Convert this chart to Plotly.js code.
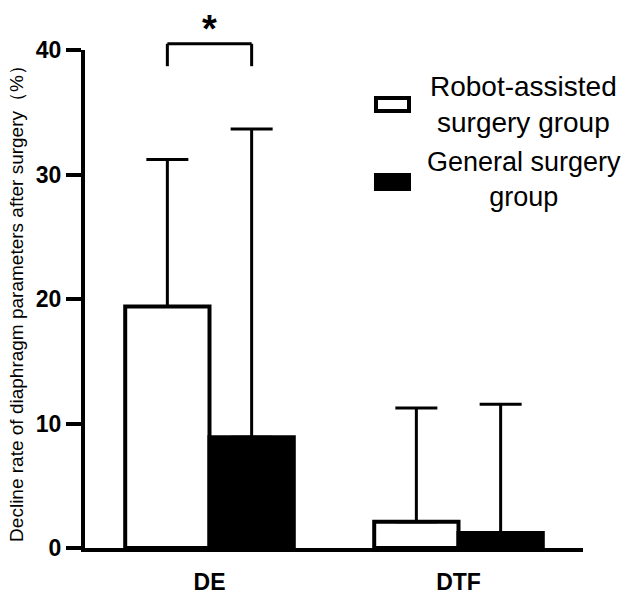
<!DOCTYPE html>
<html>
<head>
<meta charset="utf-8">
<script src="https://cdn.plot.ly/plotly-3.0.1.min.js"></script>
<style>html,body{margin:0;padding:0;background:#fff;}#chart{width:635px;height:596px;}</style>
</head>
<body>
<div id="chart"></div>
<script>
// ---- data ----
const categories = ["DE", "DTF"];
const seriesNames = ["Robot-assisted<br>surgery group", "General surgery<br>group"];
const robotMeans = [19.4, 2.1];
const robotErr = [11.8, 9.15];
const generalMeans = [8.9, 1.2];
const generalErr = [24.75, 10.35];
const yTicks = [0, 10, 20, 30, 40];
const yMax = 40;
const yTitle = "Decline rate of diaphragm parameters after surgery（%）";
const sigMark = "*";
const bracketTop = 40.5;
const bracketBottom = 38.7;

const FONT = "Liberation Sans, Arial, sans-serif";
const bargap = 0.323;
const barW = (1 - bargap) / 2;

const common = {
  type: "bar",
  x: categories,
  hoverinfo: "skip"
};

const traces = [
  Object.assign({}, common, {
    y: robotMeans,
    name: seriesNames[0],
    marker: { color: "#fff", line: { color: "#000", width: 4 } },
    error_y: { type: "data", array: robotErr, arrayminus: [0, 0], symmetric: false, color: "#000", thickness: 3, width: 21 }
  }),
  Object.assign({}, common, {
    y: generalMeans,
    name: seriesNames[1],
    marker: { color: "#000", line: { color: "#000", width: 4 } },
    error_y: { type: "data", array: generalErr, arrayminus: [0, 0], symmetric: false, color: "#000", thickness: 3, width: 21 }
  })
];

const layout = {
  width: 635,
  height: 596,
  margin: { l: 85, r: 52, t: 50, b: 48 },
  paper_bgcolor: "#fff",
  plot_bgcolor: "#fff",
  showlegend: false,
  barmode: "group",
  bargap: bargap,
  bargroupgap: 0,
  font: { family: FONT, color: "#000" },
  xaxis: {
    type: "category",
    range: [-0.5, 1.5],
    showline: true, linewidth: 4, linecolor: "#000",
    ticks: "", showgrid: false, zeroline: false,
    ticklabelstandoff: 10,
    tickfont: { family: FONT, size: 23, color: "#000", weight: "bold" },
    fixedrange: true
  },
  yaxis: {
    range: [0, yMax],
    tickvals: yTicks,
    ticktext: yTicks.map(String),
    showline: true, linewidth: 4, linecolor: "#000",
    ticks: "outside", ticklen: 15, tickwidth: 4, tickcolor: "#000",
    showgrid: false, zeroline: false,
    tickfont: { family: FONT, size: 23, color: "#000", weight: "bold" },
    title: { text: yTitle, font: { family: FONT, size: 19, color: "#000" }, standoff: 8 },
    fixedrange: true
  },
  shapes: [
    // significance bracket
    { type: "line", xref: "x", yref: "paper", x0: -barW / 2, x1: -barW / 2, y0: bracketBottom / yMax, y1: bracketTop / yMax, line: { color: "#000", width: 3 } },
    { type: "line", xref: "x", yref: "paper", x0: -barW / 2, x1: barW / 2, y0: bracketTop / yMax, y1: bracketTop / yMax, line: { color: "#000", width: 3 } },
    { type: "line", xref: "x", yref: "paper", x0: barW / 2, x1: barW / 2, y0: bracketBottom / yMax, y1: bracketTop / yMax, line: { color: "#000", width: 3 } },
    // legend swatches
    { type: "rect", xref: "paper", yref: "paper", x0: 0.5843, x1: 0.6506, y0: 0.8775, y1: 0.9036, fillcolor: "#fff", line: { color: "#000", width: 4 } },
    { type: "rect", xref: "paper", yref: "paper", x0: 0.5843, x1: 0.6506, y0: 0.7209, y1: 0.749, fillcolor: "#000", line: { color: "#000", width: 4 } }
  ],
  annotations: [
    { xref: "x", yref: "paper", x: 0, y: 1.042, text: sigMark, showarrow: false, xanchor: "center", yanchor: "middle", font: { family: FONT, size: 38, color: "#000", weight: "bold" } },
    { xref: "paper", yref: "paper", x: 0.8815, y: 0.8896, text: seriesNames[0], showarrow: false, align: "center", xanchor: "center", yanchor: "middle", font: { family: FONT, size: 28, color: "#000" } },
    { xref: "paper", yref: "paper", x: 0.8815, y: 0.739, text: seriesNames[1], showarrow: false, align: "center", xanchor: "center", yanchor: "middle", font: { family: FONT, size: 27, color: "#000" } }
  ]
};

Plotly.newPlot("chart", traces, layout, { displayModeBar: false, staticPlot: true });
</script>
</body>
</html>
